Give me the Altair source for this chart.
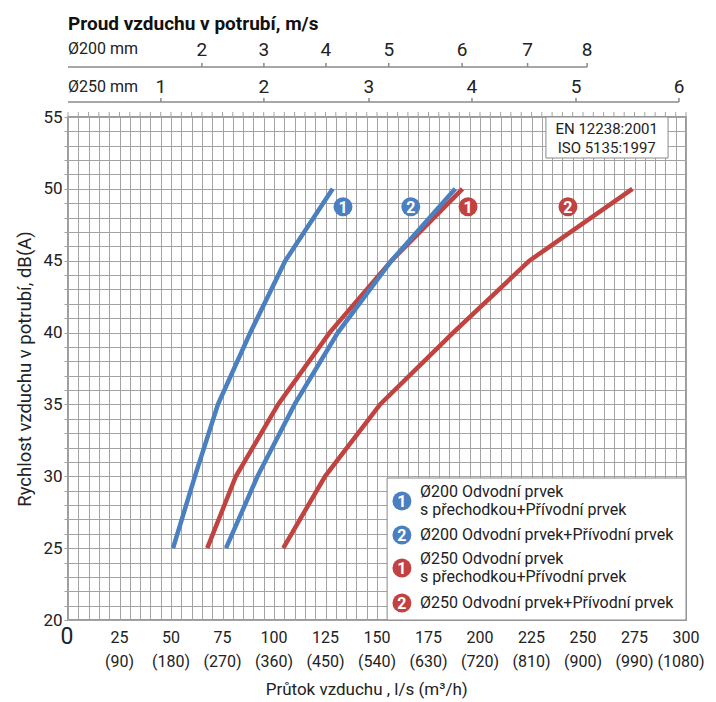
import altair as alt
import pandas as pd

# ---------------- data ----------------
db_levels = [25, 30, 35, 40, 45, 50]
q_200_1 = [51.0, 61.6, 72.8, 88.5, 105.5, 128.5]
q_200_2 = [76.7, 92.0, 110.0, 131.0, 157.0, 188.0]
q_250_1 = [67.6, 81.5, 102.0, 127.0, 157.0, 191.5]
q_250_2 = [104.5, 124.8, 151.5, 187.0, 224.0, 274.0]

series_names = ["Ø200-1", "Ø200-2", "Ø250-1", "Ø250-2"]
series_q = [q_200_1, q_200_2, q_250_1, q_250_2]
BLUE = "#4a7fc0"
RED = "#c2423f"
series_colors = [BLUE, BLUE, RED, RED]
series_numbers = ["1", "2", "1", "2"]
label_q = [133.5, 166.4, 194.2, 242.7]   # where the numbered circles sit
label_db = 48.75

x_tick_values = [25, 50, 75, 100, 125, 150, 175, 200, 225, 250, 275, 300]
x_tick_m3h = ["(90)", "(180)", "(270)", "(360)", "(450)", "(540)", "(630)",
              "(720)", "(810)", "(900)", "(990)", "(1080)"]

# top velocity scales (tick label, position in l/s)
v200_labels = ["2", "3", "4", "5", "6", "7", "8"]
v200_q = [65.0, 95.1, 125.2, 155.7, 191.3, 223.1, 252.0]
v250_labels = ["1", "2", "3", "4", "5", "6"]
v250_q = [45.1, 95.1, 146.1, 196.1, 246.6, 296.6]

legend_text = [
    ["Ø200 Odvodní prvek", "s přechodkou+Přívodní prvek"],
    ["Ø200 Odvodní prvek+Přívodní prvek"],
    ["Ø250 Odvodní prvek", "s přechodkou+Přívodní prvek"],
    ["Ø250 Odvodní prvek+Přívodní prvek"],
]

FONT = "Roboto"
GRID = "#a3a3a3"
TXT = "#222"
W, H = 618, 503

# ---------------- shared encodings ----------------
xs = alt.Scale(domain=[0, 300], nice=False, zero=False)
ys = alt.Scale(domain=[20, 55], nice=False, zero=False)
x_axis = alt.Axis(values=list(range(0, 301, 5)), labels=False, ticks=False,
                  domain=False, grid=True, gridColor=GRID, gridWidth=1,
                  gridOpacity=1, title=None)
y_axis = alt.Axis(values=list(range(20, 56)),
                  labelExpr="datum.value % 5 == 0 ? datum.label : ''",
                  ticks=True, tickSize=4, tickColor=GRID, domain=False,
                  grid=True, gridColor=GRID, gridWidth=1, gridOpacity=1,
                  labelFontSize=17, labelFont=FONT, labelColor=TXT,
                  labelPadding=2,
                  title="Rychlost vzduchu v potrubí, dB(A)", titleFont=FONT,
                  titleFontSize=18.5, titleFontWeight="normal",
                  titleColor=TXT, titlePadding=8)


def X(field="Q"):
    return alt.X(f"{field}:Q", scale=xs, axis=x_axis)


def Y(field="dB"):
    return alt.Y(f"{field}:Q", scale=ys, axis=y_axis)


# ---------------- curves ----------------
rows = []
for name, qs in zip(series_names, series_q):
    for d, q in zip(db_levels, qs):
        rows.append({"series": name, "Q": q, "dB": d})
curves = pd.DataFrame(rows)
color = alt.Color("series:N", scale=alt.Scale(domain=series_names,
                                              range=series_colors), legend=None)

base_grid = alt.Chart(pd.DataFrame({"Q": [0, 300], "dB": [20, 55]})).mark_point(
    opacity=0).encode(x=X(), y=Y())

top_ticks = alt.Chart(pd.DataFrame({"Q": list(range(0, 301, 5))})).mark_rule(
    color=GRID, strokeWidth=1).encode(x=X(), y=alt.value(-5), y2=alt.value(0))

red_lines = alt.Chart(curves[curves.series.str.startswith("Ø250")]).mark_line(
    strokeWidth=4.5).encode(x=X(), y=Y(), color=color, detail="series:N",
                            order="dB:Q")
blue_lines = alt.Chart(curves[curves.series.str.startswith("Ø200")]).mark_line(
    strokeWidth=4.5).encode(x=X(), y=Y(), color=color, detail="series:N",
                            order="dB:Q")

lab_df = pd.DataFrame({"series": series_names, "Q": label_q,
                       "dB": [label_db] * 4, "num": series_numbers})
lab_circles = alt.Chart(lab_df).mark_circle(size=360, opacity=1).encode(
    x=X(), y=Y(), color=color)
lab_nums = alt.Chart(lab_df).mark_text(font=FONT, fontSize=16, fontWeight="bold",
                                       color="white", dy=1).encode(
    x=X(), y=Y(), text="num:N")

# ---------------- bottom axis labels ----------------
xl_df = pd.DataFrame({"Q": x_tick_values, "m3h": x_tick_m3h,
                      "lab": [str(v) for v in x_tick_values]})
x_nums = alt.Chart(xl_df).mark_text(font=FONT, fontSize=16, color=TXT).encode(
    x=X(), y=alt.value(H + 18), text="lab:N")
x_m3h = alt.Chart(xl_df.iloc[:-1]).mark_text(font=FONT, fontSize=16, color=TXT).encode(
    x=X(), y=alt.value(H + 42), text="m3h:N")
x_m3h_last = alt.Chart(xl_df.iloc[-1:]).mark_text(font=FONT, fontSize=16, color=TXT,
                                                   dx=-5).encode(
    x=X(), y=alt.value(H + 42), text="m3h:N")
x_zero = alt.Chart(pd.DataFrame({"Q": [0], "lab": ["0"]})).mark_text(
    font=FONT, fontSize=23, color=TXT, dx=-1).encode(
    x=X(), y=alt.value(H + 17), text="lab:N")
x_title = alt.Chart(pd.DataFrame({"Q": [145], "t": ["Průtok vzduchu , l/s (m³/h)"]})).mark_text(
    font=FONT, fontSize=17, color=TXT).encode(x=X(), y=alt.value(H + 70), text="t:N")

# ---------------- top velocity scales ----------------
top_title = alt.Chart(pd.DataFrame({"Q": [0], "t": ["Proud vzduchu v potrubí, m/s"]})).mark_text(
    font=FONT, fontSize=19, fontWeight="bold", color="#111", align="left").encode(
    x=X(), y=alt.value(-93), text="t:N")
scale_lines = alt.Chart(pd.DataFrame({"Q": [0, 0], "Q2": [v200_q[-1], v250_q[-1]],
                                      "y": [-50, -15]})).mark_rule(
    color="#8a8a8a", strokeWidth=1.5).encode(x=X(), x2="Q2:Q", y=alt.Y("y:Q", scale=None))
scale_names = alt.Chart(pd.DataFrame({"Q": [0, 0], "t": ["Ø200 mm", "Ø250 mm"],
                                      "y": [-68, -30]})).mark_text(
    font=FONT, fontSize=16, color=TXT, align="left").encode(
    x=X(), y=alt.Y("y:Q", scale=None), text="t:N")
v_df = pd.DataFrame({"Q": v200_q + v250_q, "t": v200_labels + v250_labels,
                     "yl": [-67] * len(v200_q) + [-30] * len(v250_q),
                     "yt": [-54] * len(v200_q) + [-19] * len(v250_q),
                     "yb": [-50] * len(v200_q) + [-15] * len(v250_q)})
v_ticks = alt.Chart(v_df).mark_rule(color="#8a8a8a", strokeWidth=1.5).encode(
    x=X(), y=alt.Y("yt:Q", scale=None), y2="yb:Q")
v_labels = alt.Chart(v_df).mark_text(font=FONT, fontSize=19, color=TXT).encode(
    x=X(), y=alt.Y("yl:Q", scale=None), text="t:N")

# ---------------- standards box ----------------
std_box = alt.Chart(pd.DataFrame({"Q": [232.0], "Q2": [291.3]})).mark_rect(
    fill="white", stroke="#8a8a8a", strokeWidth=1).encode(
    x=X(), x2="Q2:Q", y=alt.value(0), y2=alt.value(41))
std_text = alt.Chart(pd.DataFrame({"Q": [261.5, 261.5], "t": ["EN 12238:2001", "ISO 5135:1997"],
                                   "y": [12, 31]})).mark_text(
    font=FONT, fontSize=15, color=TXT).encode(
    x=X(), y=alt.Y("y:Q", scale=None), text="t:N")

# ---------------- custom legend ----------------
leg_box = alt.Chart(pd.DataFrame({"Q": [154.9], "Q2": [300.0]})).mark_rect(
    fill="white", stroke="#8a8a8a", strokeWidth=1).encode(
    x=X(), x2="Q2:Q", y=alt.value(361), y2=alt.value(H))
leg_circle_y = [384, 418, 451, 486]
leg_df = pd.DataFrame({"series": series_names, "Q": [162.1] * 4,
                       "y": leg_circle_y, "num": series_numbers})
leg_circles = alt.Chart(leg_df).mark_circle(size=360, opacity=1).encode(
    x=X(), y=alt.Y("y:Q", scale=None), color=color)
leg_nums = alt.Chart(leg_df).mark_text(font=FONT, fontSize=16, fontWeight="bold",
                                       color="white", dy=1).encode(
    x=X(), y=alt.Y("y:Q", scale=None), text="num:N")
leg_line_y = [[375, 393], [418], [442, 460], [486]]
lt_rows = []
for lines, ys_ in zip(legend_text, leg_line_y):
    for t, yy in zip(lines, ys_):
        lt_rows.append({"Q": 170.9, "t": t, "y": yy})
leg_text = alt.Chart(pd.DataFrame(lt_rows)).mark_text(
    font=FONT, fontSize=16, color=TXT, align="left").encode(
    x=X(), y=alt.Y("y:Q", scale=None), text="t:N")

chart = alt.layer(
    base_grid, top_ticks, red_lines, blue_lines, lab_circles, lab_nums,
    x_nums, x_m3h, x_m3h_last, x_zero, x_title,
    top_title, scale_lines, scale_names, v_ticks, v_labels,
    std_box, std_text, leg_box, leg_circles, leg_nums, leg_text,
).properties(
    width=W, height=H,
    padding={"left": 60, "top": 109, "right": 22, "bottom": 80},
    autosize=alt.AutoSizeParams(type="none"),
    background="white",
).configure_view(stroke="#7a7a7a", strokeWidth=1.5)

chart.save("out.html", embed_options={"renderer": "svg", "actions": False})
